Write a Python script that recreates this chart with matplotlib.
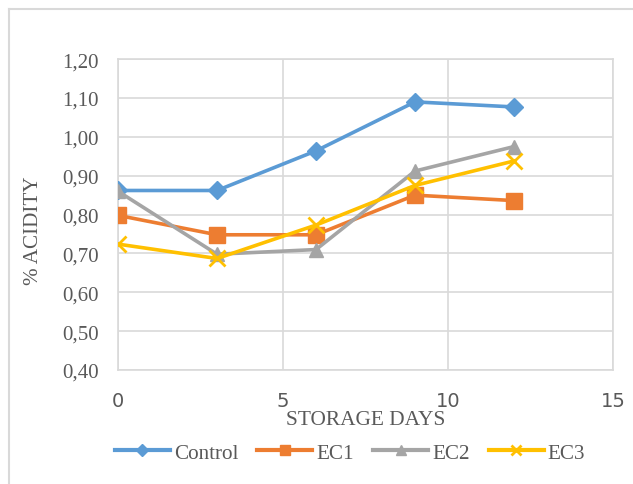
import matplotlib
matplotlib.use("Agg")
import matplotlib.pyplot as plt
from matplotlib.lines import Line2D
from matplotlib.ticker import FuncFormatter

days = [0, 3, 6, 9, 12]
control = [0.862, 0.862, 0.964, 1.090, 1.077]
ec1 = [0.798, 0.748, 0.748, 0.850, 0.836]
ec2 = [0.860, 0.698, 0.710, 0.912, 0.975]
ec3 = [0.724, 0.687, 0.773, 0.875, 0.938]
series_names = ["Control", "EC1", "EC2", "EC3"]
x_ticks = [0, 5, 10, 15]
y_ticks = [0.40, 0.50, 0.60, 0.70, 0.80, 0.90, 1.00, 1.10, 1.20]

colors = ["#5B9BD5", "#ED7D31", "#A5A5A5", "#FFC000"]
markers = ["D", "s", "^", "x"]
msizes = [9, 11, 10, 11]

fig = plt.figure(figsize=(6.33, 4.85), dpi=100)
ax = fig.add_axes([0.1864, 0.235, 0.782, 0.641])

serif = "Liberation Serif"
for vals, name, c, m, ms in zip([control, ec1, ec2, ec3], series_names, colors, markers, msizes):
    kw = dict(color=c, lw=2.6, marker=m, markersize=ms, label=name, zorder=3)
    if m == "x":
        kw.update(markeredgewidth=2.0)
    ax.plot(days, vals, **kw)

ax.set_xlim(0, 15)
ax.set_ylim(0.40, 1.20)
ax.set_xticks(x_ticks)
ax.set_yticks(y_ticks)
ax.yaxis.set_major_formatter(FuncFormatter(lambda v, p: f"{v:.2f}".replace(".", ",")))
ax.grid(True, color="#D9D9D9", lw=1.2, zorder=0)
for s in ax.spines.values():
    s.set_color("#D9D9D9")
    s.set_linewidth(1.2)
ax.tick_params(length=0)
ax.tick_params(axis="y", pad=14, labelsize=15, labelcolor="#595959")
ax.tick_params(axis="x", pad=15, labelsize=14, labelcolor="#595959")
for lab in ax.get_yticklabels():
    lab.set_fontfamily(serif)
for lab in ax.get_xticklabels():
    lab.set_fontfamily("DejaVu Sans")

ax.set_xlabel("STORAGE DAYS", fontfamily=serif, fontsize=15.4, color="#595959", labelpad=0)
ax.set_ylabel("% ACIDITY", fontfamily=serif, fontsize=15.2, color="#595959", labelpad=13)
ax.yaxis.set_label_coords(-0.152, 0.453)

handles = [Line2D([0], [0], color=c, lw=3, marker=m, markersize=ms * 0.7,
                  markeredgewidth=2.0 if m == "x" else 1.0)
           for c, m, ms in zip(colors, markers, msizes)]
fig.legend(handles, series_names, loc="center", bbox_to_anchor=(350 / 633, 0.064), ncol=4,
           frameon=False, prop={"family": serif, "size": 15.2}, handlelength=2.6,
           handletextpad=0.2, columnspacing=0.9, labelcolor="#595959")

# outer chart border (top and left visible)
fig.add_artist(Line2D([9 / 633, 9 / 633], [0, 1 - 10 / 485], transform=fig.transFigure,
                      color="#D9D9D9", lw=1.5))
fig.add_artist(Line2D([9 / 633, 1], [1 - 10 / 485, 1 - 10 / 485], transform=fig.transFigure,
                      color="#D9D9D9", lw=1.5))

fig.savefig("out.png", dpi=100)
